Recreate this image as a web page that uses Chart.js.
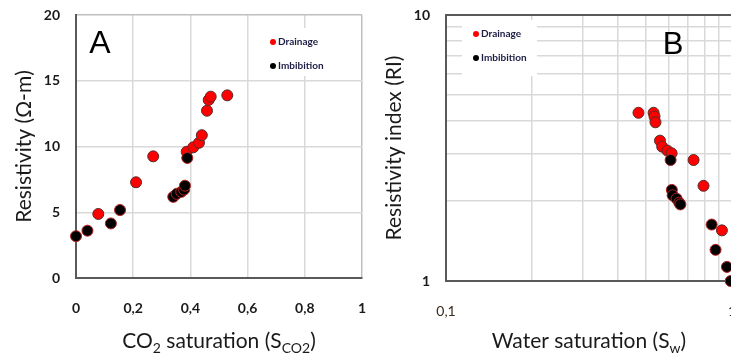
<!DOCTYPE html>
<html>
<head>
<meta charset="utf-8">
<script src="https://cdn.jsdelivr.net/npm/chart.js@4.4.0/dist/chart.umd.min.js"></script>
<style>
  html, body { margin: 0; padding: 0; background: #fff; overflow: hidden; }
  body { width: 731px; height: 353px; position: relative; }
  .panel { position: absolute; top: 0; width: 370px; height: 353px; }
  #panelA { left: 0; }
  #panelB { left: 370px; }
</style>
</head>
<body>
<div class="panel" id="panelA"><canvas id="chartA"></canvas></div>
<div class="panel" id="panelB"><canvas id="chartB"></canvas></div>
<script>
// === DATA: panel A, resistivity vs CO2 saturation ===
const drainageCO2 = [0.078, 0.21, 0.27, 0.387, 0.41, 0.43, 0.44, 0.458, 0.464, 0.471, 0.529];
const drainageRes = [4.87, 7.28, 9.25, 9.6, 9.94, 10.28, 10.86, 12.72, 13.54, 13.79, 13.89];
const imbibitionCO2 = [0, 0.04, 0.122, 0.154, 0.34, 0.352, 0.368, 0.378, 0.381, 0.389];
const imbibitionRes = [3.18, 3.6, 4.15, 5.17, 6.17, 6.4, 6.55, 6.72, 7.02, 9.13];
const ticksA_x = [0, 0.2, 0.4, 0.6, 0.8, 1];
const ticksA_y = [0, 5, 10, 15, 20];

// === DATA: panel B, resistivity index vs water saturation (log-log) ===
const drainageSw = [0.471, 0.532, 0.536, 0.54, 0.56, 0.57, 0.595, 0.615, 0.734, 0.795, 0.922];
const drainageRI = [4.29, 4.29, 4.15, 3.95, 3.37, 3.2, 3.09, 3.02, 2.85, 2.28, 1.55];
const imbibitionSw = [0.61, 0.616, 0.62, 0.64, 0.654, 0.66, 0.849, 0.876, 0.96, 0.99];
const imbibitionRI = [2.85, 2.2, 2.1, 2.04, 1.97, 1.94, 1.63, 1.31, 1.13, 1.0];
const gridB_x = [0.1, 0.2, 0.3, 0.4, 0.5, 0.6, 0.7, 0.8, 0.9, 1];
const gridB_y = [1, 2, 3, 4, 5, 6, 7, 8, 9, 10];
const labelsB_x = [0.1, 1];
const labelsB_y = [1, 10];

const seriesNames = ["Drainage", "Imbibition"];

// === HELPERS ===
const fmtComma = v => String(Number(v.toFixed(2))).replace(".", ",");
const pts = (xs, ys) => xs.map((x, i) => ({ x: x, y: ys[i] }));
const near = (v, list) => list.some(t => Math.abs(t - v) < 1e-6 * Math.max(1, t));

const tickFont = { family: "Lato", size: 14, weight: "bold" };
const titleFont = { family: "Lato", size: 21, weight: "normal" };
const noTick = "rgba(0,0,0,0)";

function makeDatasets(dx, dy, ix, iy) {
    return [
        { label: seriesNames[0], data: pts(dx, dy), backgroundColor: "#ff0000", borderColor: "#5b2a2a",
          borderWidth: 1, pointRadius: 5.5, pointHoverRadius: 5.5, order: 1, clip: false },
        { label: seriesNames[1], data: pts(ix, iy), backgroundColor: "#000000", borderColor: "#b32020",
          borderWidth: 1, pointRadius: 5.5, pointHoverRadius: 5.5, order: 0, clip: false }
    ];
}

// === PLUGIN: legend inside a white box ===
const boxLegend = {
    id: "boxLegend",
    afterDraw(chart, args, o) {
        const ctx = chart.ctx;
        ctx.save();
        ctx.fillStyle = "#ffffff";
        ctx.fillRect(o.x, o.y, o.w, o.h);
        chart.data.datasets.forEach((ds, i) => {
            const cy = o.y + o.first + i * o.gap;
            ctx.beginPath();
            ctx.arc(o.x + o.dot, cy, 3, 0, Math.PI * 2);
            ctx.fillStyle = ds.backgroundColor;
            ctx.fill();
            ctx.font = "bold 10px Lato";
            ctx.fillStyle = "#1c1c44";
            ctx.textBaseline = "middle";
            ctx.fillText(ds.label, o.x + o.dot + 5, cy);
        });
        ctx.restore();
    }
};

// === PLUGIN: panel letter + x title with subscripts ===
const panelText = {
    id: "panelText",
    afterDraw(chart, args, o) {
        const ctx = chart.ctx;
        const area = chart.chartArea;
        ctx.save();
        ctx.fillStyle = "#000";
        ctx.textBaseline = "alphabetic";
        ctx.textAlign = "center";
        ctx.font = o.letterSize + "px 'Liberation Sans', Arial";
        ctx.fillText(o.letter, o.letterX, o.letterY);

        // x axis title, pieces may be subscripts
        ctx.textAlign = "left";
        ctx.fillStyle = "#1a1a1a";
        const big = "21px Lato", small = "14px Lato";
        let total = 0;
        o.xTitle.forEach(p => { ctx.font = p.sub ? small : big; total += ctx.measureText(p.t).width; });
        let x = (area.left + area.right) / 2 - total / 2;
        o.xTitle.forEach(p => {
            ctx.font = p.sub ? small : big;
            ctx.fillText(p.t, x, o.titleY + (p.sub ? 5 : 0));
            x += ctx.measureText(p.t).width;
        });
        ctx.restore();
    }
};

// === CHART A ===
new Chart(document.getElementById("chartA"), {
    type: "scatter",
    data: { datasets: makeDatasets(drainageCO2, drainageRes, imbibitionCO2, imbibitionRes) },
    options: {
        responsive: true, maintainAspectRatio: false, animation: false,
        layout: { padding: { top: 15, right: 8, left: 0, bottom: 0 } },
        plugins: {
            legend: { display: false }, tooltip: { enabled: false },
            boxLegend: { x: 262, y: 28, w: 56, h: 48, dot: 11, first: 14, gap: 24 },
            panelText: {
                letter: "A", letterX: 100, letterY: 53, letterSize: 32, titleY: 348,
                xTitle: [{ t: "CO" }, { t: "2", sub: true }, { t: " saturation (S" }, { t: "CO2", sub: true }, { t: ")" }]
            }
        },
        scales: {
            x: {
                type: "linear", min: ticksA_x[0], max: ticksA_x[ticksA_x.length - 1],
                afterBuildTicks: s => { s.ticks = ticksA_x.map(v => ({ value: v })); },
                ticks: { padding: 2, font: tickFont, color: "#1a1a1a", callback: v => fmtComma(v) },
                grid: { color: c => c.tick && c.tick.value === 1 ? "#bfbfbf" : "#d9d9d9", lineWidth: 1.5,
                        drawTicks: true, tickLength: 20, tickColor: noTick },
                border: { color: "#595959", width: 2 },
                afterFit: s => { s.height = 75; }
            },
            y: {
                type: "linear", min: ticksA_y[0], max: ticksA_y[ticksA_y.length - 1],
                afterBuildTicks: s => { s.ticks = ticksA_y.map(v => ({ value: v })); },
                ticks: { padding: 2, font: tickFont, color: "#1a1a1a" },
                grid: { color: c => c.tick && c.tick.value === 20 ? "#bfbfbf" : "#d9d9d9", lineWidth: 1.5,
                        drawTicks: true, tickLength: 14, tickColor: noTick },
                border: { color: "#595959", width: 2 },
                title: { display: true, text: "Resistivity (Ω-m)", font: titleFont, color: "#1a1a1a", padding: { top: 12 } },
                afterFit: s => { s.width = 76; }
            }
        }
    },
    plugins: [boxLegend, panelText]
});

// === CHART B ===
new Chart(document.getElementById("chartB"), {
    type: "scatter",
    data: { datasets: makeDatasets(drainageSw, drainageRI, imbibitionSw, imbibitionRI) },
    options: {
        responsive: true, maintainAspectRatio: false, animation: false,
        layout: { padding: { top: 15, right: 8, left: 0, bottom: 0 } },
        plugins: {
            legend: { display: false }, tooltip: { enabled: false },
            boxLegend: { x: 92, y: 20, w: 75, h: 56, dot: 14, first: 14, gap: 24 },
            panelText: {
                letter: "B", letterX: 303, letterY: 54, letterSize: 31, titleY: 348,
                xTitle: [{ t: "Water saturation (S" }, { t: "w", sub: true }, { t: ")" }]
            }
        },
        scales: {
            x: {
                type: "logarithmic", min: gridB_x[0], max: gridB_x[gridB_x.length - 1],
                afterBuildTicks: s => { s.ticks = gridB_x.map(v => ({ value: v })); },
                ticks: { padding: 2, autoSkip: false, maxRotation: 0, font: { family: "Lato", size: 14 }, color: "#3a2a1a",
                         callback: v => near(v, labelsB_x) ? fmtComma(v) : "" },
                grid: { color: "#d9d9d9", lineWidth: 1.5, drawTicks: true, tickLength: 20, tickColor: noTick },
                border: { color: "#595959", width: 2 },
                afterFit: s => { s.height = 72; }
            },
            y: {
                type: "logarithmic", min: gridB_y[0], max: gridB_y[gridB_y.length - 1],
                afterBuildTicks: s => { s.ticks = gridB_y.map(v => ({ value: v })); },
                ticks: { padding: 2, autoSkip: false, font: tickFont, color: "#1a1a1a",
                         callback: v => near(v, labelsB_y) ? String(v) : "" },
                grid: { color: c => c.tick && near(c.tick.value, [10]) ? "#595959" : "#d9d9d9",
                        lineWidth: c => c.tick && near(c.tick.value, [10]) ? 2 : 1.5,
                        drawTicks: true, tickLength: 14, tickColor: noTick },
                border: { color: "#595959", width: 2 },
                title: { display: true, text: "Resistivity index (RI)", font: titleFont, color: "#1a1a1a", padding: { top: 12 } },
                afterFit: s => { s.width = 76; }
            }
        }
    },
    plugins: [boxLegend, panelText]
});
</script>
</body>
</html>
